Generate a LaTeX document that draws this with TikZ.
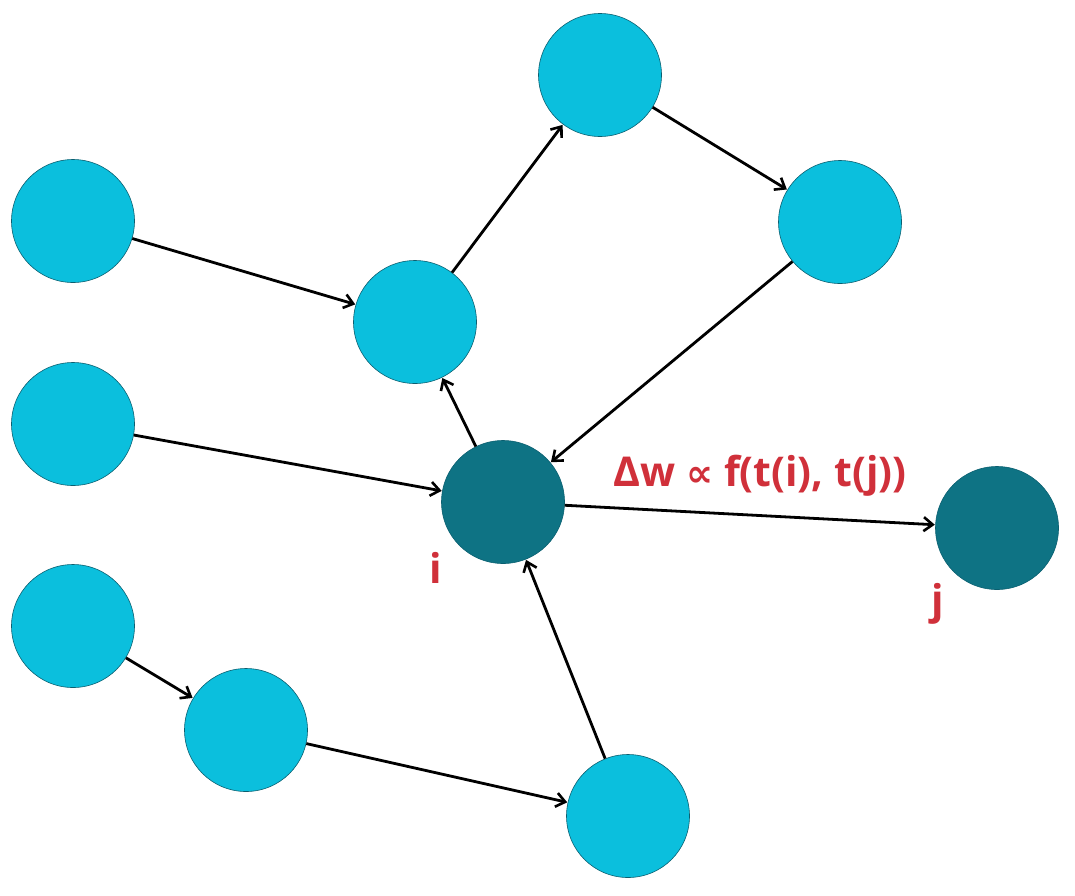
\documentclass[tikz,border=0pt]{standalone}
\usepackage{fontspec}
\setmainfont{Open Sans}
\newfontfamily\symfont{DejaVu Sans}
\usetikzlibrary{arrows.meta}
\definecolor{nodecyan}{HTML}{0BBFDD}
\definecolor{nodedark}{HTML}{0E7384}
\definecolor{edgeline}{HTML}{0A5F70}
\definecolor{labelred}{HTML}{D0303A}
\begin{document}
\begin{tikzpicture}[x=1pt,y=-1pt,
  neuron/.style={circle,minimum size=123pt,inner sep=0pt,fill=nodecyan,draw=edgeline,line width=0.6pt},
  darkneuron/.style={neuron,fill=nodedark},
  link/.style={line width=2.8pt,-{Straight Barb[length=9pt,width=14pt,line width=2.6pt]},shorten >=0.5pt},
  lbl/.style={text=labelred,font=\fontsize{41}{44}\selectfont\bfseries,inner sep=0pt}]
\useasboundingbox (0,0) rectangle (1075,895);
\node[neuron] (a) at (73,221) {};
\node[neuron] (b) at (600,75) {};
\node[neuron] (c) at (840,222) {};
\node[neuron] (d) at (415,322) {};
\node[neuron] (e) at (73,424) {};
\node[darkneuron] (i) at (503,502) {};
\node[darkneuron] (j) at (997,528) {};
\node[neuron] (f) at (73,626) {};
\node[neuron] (g) at (246,730) {};
\node[neuron] (h) at (628,816) {};
\draw[link] (a) -- (d);
\draw[link] (d) -- (b);
\draw[link] (b) -- (c);
\draw[link] (c) -- (i);
\draw[link] (i) -- (d);
\draw[link] (e) -- (i);
\draw[link] (f) -- (g);
\draw[link] (g) -- (h);
\draw[link] (h) -- (i);
\draw[link] (i) -- (j);
\node[lbl] (w) at (760,476) {Δw {\symfont\bfseries\fontsize{38}{40}\selectfont ∝} f(t(i), t(j))};
\node[lbl] (li) at (436,568) {i};
\node[lbl] (lj) at (938,604) {j};
\end{tikzpicture}
\end{document}
